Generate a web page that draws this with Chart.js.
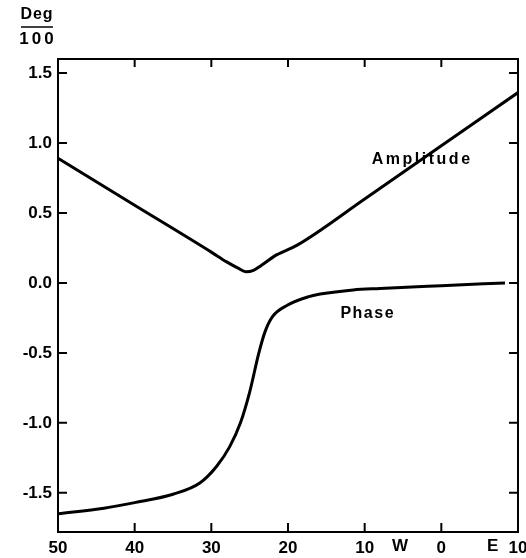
<!DOCTYPE html>
<html lang="en">

<head>
    <meta charset="UTF-8">
    <title>Amplitude and Phase</title>
    <script src="https://cdn.jsdelivr.net/npm/chart.js"></script>
    <style>
        body {
            margin: 0;
            background: #fff;
            overflow: hidden;
        }

        #chartContainer {
            width: 545px;
            height: 558px;
        }
    </style>
</head>

<body>
    <div id="chartContainer">
        <canvas id="ampPhaseChart" width="545" height="558"></canvas>
    </div>

    <script>
        // longitude (deg W positive, E negative) and values in Deg/100
        const ampLon = [50, 40, 30, 28, 26.5, 25.5, 24.5, 23.5, 21.5, 18.8, 10, 0, -10];
        const ampVal = [0.89, 0.555, 0.22, 0.15, 0.105, 0.08, 0.09, 0.125, 0.2, 0.27, 0.6, 0.98, 1.36];

        const phaseLon = [50, 44, 40, 35, 31.5, 29.3, 27.6, 26.2, 25.0, 23.8, 23.0, 22.0, 20.1, 17.4, 15.8, 11.5, 8, 0, -8.3];
        const phaseVal = [-1.65, -1.61, -1.57, -1.51, -1.43, -1.31, -1.17, -1.00, -0.78, -0.50, -0.35, -0.24, -0.16, -0.10, -0.08, -0.05, -0.04, -0.02, 0.0];

        const xTicks = [50, 40, 30, 20, 10, 0, -10];
        const yTicks = [-1.5, -1.0, -0.5, 0.0, 0.5, 1.0, 1.5];

        const font = 'Liberation Sans, Arial, sans-serif';

        // frame, inward ticks and the hand lettering
        const framePlugin = {
            id: 'frame',
            afterDraw(chart) {
                const { ctx, chartArea: a, scales: { x, y } } = chart;
                ctx.save();
                ctx.strokeStyle = '#000';
                ctx.lineWidth = 2;
                ctx.strokeRect(a.left, a.top, a.right - a.left, a.bottom - a.top);

                xTicks.forEach(v => {
                    const px = x.getPixelForValue(v);
                    ctx.beginPath();
                    ctx.moveTo(px, a.bottom);
                    ctx.lineTo(px, a.bottom - 9);
                    ctx.moveTo(px, a.top);
                    ctx.lineTo(px, a.top + 8);
                    ctx.stroke();
                });
                yTicks.forEach(v => {
                    const py = y.getPixelForValue(v);
                    ctx.beginPath();
                    ctx.moveTo(a.left, py);
                    ctx.lineTo(a.left + 9, py);
                    ctx.moveTo(a.right, py);
                    ctx.lineTo(a.right - 9, py);
                    ctx.stroke();
                });

                ctx.fillStyle = '#000';
                ctx.textAlign = 'center';
                ctx.textBaseline = 'middle';
                ctx.font = 'bold 16px ' + font;
                ctx.letterSpacing = '2.5px';
                ctx.fillText('Amplitude', x.getPixelForValue(2.5), y.getPixelForValue(0.88));
                ctx.letterSpacing = '1.5px';
                ctx.fillText('Phase', x.getPixelForValue(9.6), y.getPixelForValue(-0.22));

                // W / E markers next to the tick labels
                ctx.font = 'bold 17px ' + font;
                ctx.letterSpacing = '0px';
                const ly = a.bottom + 14;
                ctx.fillText('W', x.getPixelForValue(5.4), ly);
                ctx.fillText('E', x.getPixelForValue(-6.7), ly);

                // axis unit Deg / 100
                ctx.font = 'bold 16px ' + font;
                ctx.letterSpacing = '1px';
                ctx.fillText('Deg', 37, 15);
                ctx.font = 'bold 17px ' + font;
                ctx.letterSpacing = '3px';
                ctx.fillText('100', 38, 39);
                ctx.lineWidth = 1.5;
                ctx.beginPath();
                ctx.moveTo(21, 27);
                ctx.lineTo(53, 27);
                ctx.stroke();
                ctx.restore();
            }
        };

        const ctx = document.getElementById('ampPhaseChart').getContext('2d');
        new Chart(ctx, {
            type: 'line',
            data: {
                datasets: [{
                    label: 'Amplitude',
                    data: ampLon.map((v, i) => ({ x: v, y: ampVal[i] })),
                    borderColor: '#000',
                    borderWidth: 3,
                    pointRadius: 0,
                    cubicInterpolationMode: 'monotone'
                }, {
                    label: 'Phase',
                    data: phaseLon.map((v, i) => ({ x: v, y: phaseVal[i] })),
                    borderColor: '#000',
                    borderWidth: 3,
                    pointRadius: 0,
                    cubicInterpolationMode: 'monotone'
                }]
            },
            options: {
                responsive: false,
                animation: false,
                layout: { padding: { top: 59, right: 27, left: 0, bottom: 0 } },
                plugins: {
                    legend: { display: false },
                    tooltip: { enabled: false }
                },
                scales: {
                    x: {
                        type: 'linear',
                        reverse: true,
                        min: -10,
                        max: 50,
                        afterBuildTicks: s => { s.ticks = xTicks.map(v => ({ value: v })); },
                        afterFit: s => { s.height = 26; },
                        grid: { display: false, drawTicks: false },
                        border: { display: false },
                        ticks: {
                            color: '#000',
                            padding: 6,
                            maxRotation: 0,
                            autoSkip: false,
                            font: { family: font, size: 17, weight: 'bold' },
                            callback: v => String(Math.abs(v))
                        }
                    },
                    y: {
                        min: -1.78,
                        max: 1.6,
                        afterBuildTicks: s => { s.ticks = yTicks.map(v => ({ value: v })); },
                        afterFit: s => { s.width = 58; },
                        grid: { display: false, drawTicks: false },
                        border: { display: false },
                        ticks: {
                            color: '#000',
                            padding: 6,
                            autoSkip: false,
                            font: { family: font, size: 17, weight: 'bold' },
                            callback: v => v.toFixed(1)
                        }
                    }
                }
            },
            plugins: [framePlugin]
        });
    </script>
</body>

</html>
